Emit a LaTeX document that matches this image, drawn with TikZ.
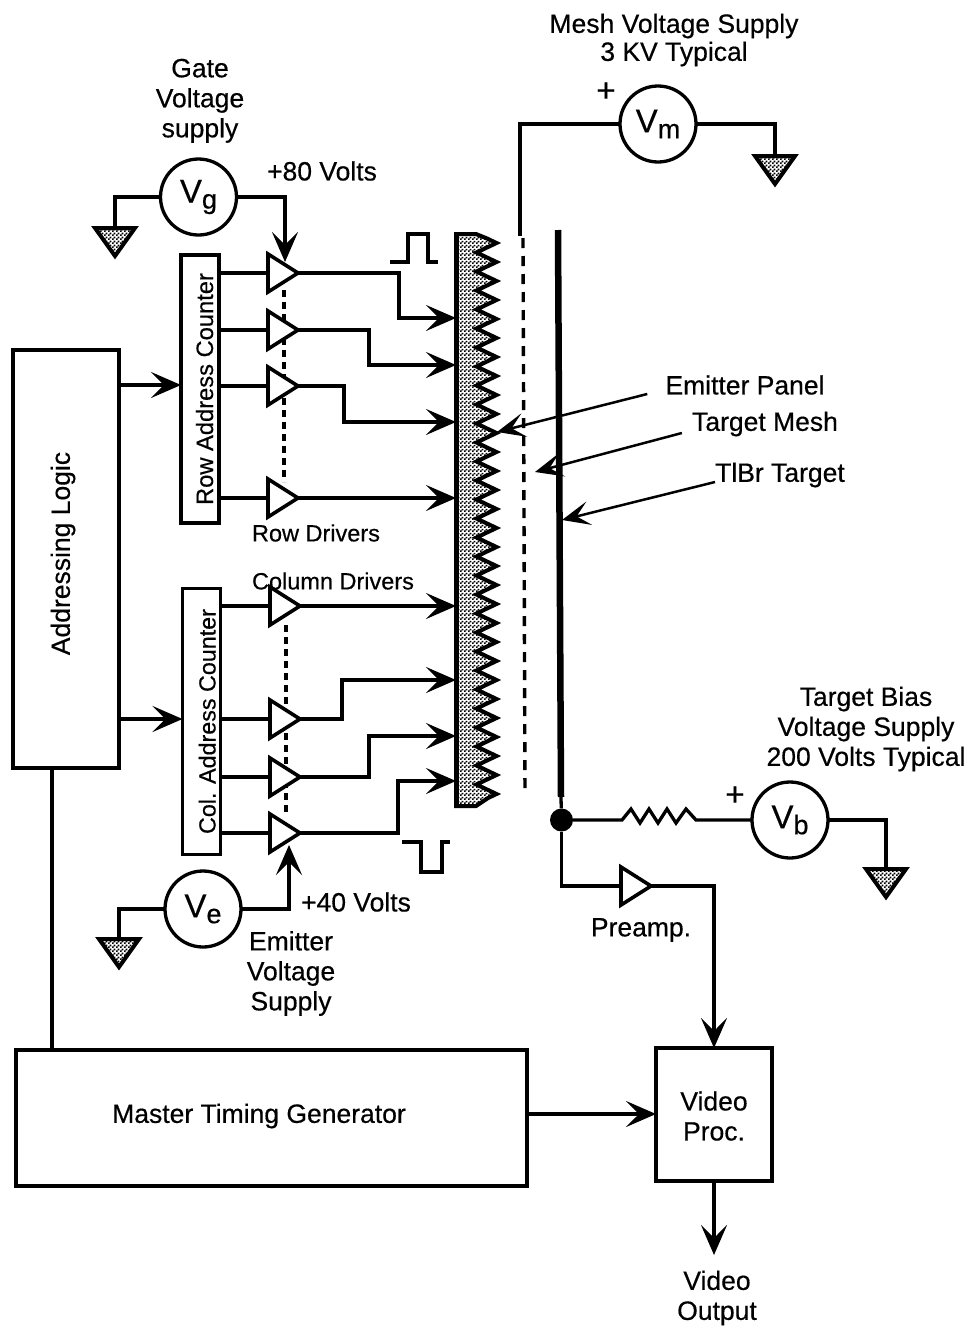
\documentclass[tikz,border=0pt]{standalone}
\usepackage{fontspec}
\setmainfont{Liberation Sans}[FakeBold=0.45]
\usepackage{tikz}
\usetikzlibrary{shapes.geometric, arrows.meta, positioning, patterns, decorations.pathmorphing}

\newcommand{\srclabel}[1]{V\raisebox{-6pt}{\fontsize{27}{27}\selectfont #1}}
\pgfdeclarepatternformonly{stipple}{\pgfqpoint{0pt}{0pt}}{\pgfqpoint{4pt}{4pt}}{\pgfqpoint{4pt}{4pt}}{
    \pgfpathrectangle{\pgfqpoint{0pt}{0pt}}{\pgfqpoint{2pt}{2pt}}
    \pgfpathrectangle{\pgfqpoint{2pt}{2pt}}{\pgfqpoint{2pt}{2pt}}
    \pgfusepath{fill}
}

\begin{document}
\begin{tikzpicture}[
    x=1pt, y=-1pt,
    box/.style={rectangle, draw=black, line width=3.3pt, outer sep=0pt, inner sep=0pt},
    counter/.style={rectangle, draw=black, line width=3.3pt, outer sep=0pt, rotate=90, inner xsep=0pt, inner ysep=0pt, text height=32pt, text depth=6pt, minimum width=268pt, font=\fontsize{23.7}{26}\selectfont},
    driver/.style={isosceles triangle, isosceles triangle stretches, draw=black, fill=white, line width=3.6pt, minimum width=38pt, minimum height=30pt, inner sep=0pt, outer sep=0pt, anchor=lower side},
    source/.style={circle, draw=black, line width=3.3pt, minimum size=76pt, inner sep=0pt, outer sep=0pt, font=\fontsize{33}{33}\selectfont},
    ground/.style={isosceles triangle, isosceles triangle stretches, shape border rotate=270, draw=black, line width=4pt, pattern=stipple, minimum width=40pt, minimum height=28pt, inner sep=0pt, outer sep=0pt, anchor=lower side},
    lbl/.style={inner sep=0pt, align=center, font=\fontsize{26.5}{30}\selectfont},
    smalllbl/.style={inner sep=0pt, align=center, font=\fontsize{23.5}{26}\selectfont},
    wire/.style={draw=black, line width=3.3pt},
    line/.style={draw=black, line width=3.3pt, -{Stealth[length=30pt,width=26pt,inset=13pt]}},
    thinline/.style={draw=black, line width=2.5pt, -{Stealth[length=28pt,width=24pt,inset=13pt]}},
    busdots/.style={draw=black, line width=4.5pt, dash pattern=on 7pt off 5pt}
]
\useasboundingbox (0,0) rectangle (974,1328);

% Logic blocks
\node [box, minimum width=106pt, minimum height=418pt] (addrlogic) at (66,559) {};
\node [lbl, rotate=90] (addrlbl) at (63,553.5) {Addressing Logic};
\node [box, minimum width=511pt, minimum height=136pt] (timing) at (271.5,1118) {};
\node [lbl] (timinglbl) at (259,1116) {Master Timing Generator};
\node [box, minimum width=116pt, minimum height=133pt] (videoproc) at (714,1114.5) {};
\node [lbl] (videolbl) at (714,1116) {Video\\Proc.};
\node [counter] (rowcnt) at (200,389) {Row Address Counter};
\node [counter, minimum width=266pt, text height=33pt, text depth=5pt, font=\fontsize{23.3}{26}\selectfont] (colcnt) at (201.5,721.5) {Col. Address Counter};

% Row and column drivers
\path [busdots] (284,290) -- (284,482);
\path [busdots] (286,625) -- (286,815);
\node [driver] (rowdrv1) at (268,273) {};
\node [driver] (rowdrv2) at (268,330) {};
\node [driver] (rowdrv3) at (268,386) {};
\node [driver] (rowdrv4) at (268,498) {};
\node [driver] (coldrv1) at (270,606) {};
\node [driver] (coldrv2) at (270,719) {};
\node [driver] (coldrv3) at (270,777) {};
\node [driver] (coldrv4) at (270,833) {};
\node [driver] (preamp) at (621,886) {};
\node [smalllbl] (rowlbl) at (316,533) {Row Drivers};
\node [smalllbl] (collbl) at (333,581) {Column Drivers};
\node [lbl] (preamplbl) at (641,930) {Preamp.};

% Emitter panel, mesh, target
\node [minimum width=20pt, minimum height=572pt, inner sep=0pt, outer sep=0pt] (panel) at (466,520) {};
\draw [line width=4pt, pattern=stipple, line join=miter]
    (panel.north west) -- (panel.north east) -- (486.5,238.25)
    decorate [decoration={zigzag, segment length=19pt, amplitude=10pt}] {-- (486.5,799)}
    -- (panel.south east) -- (panel.south west) -- cycle;
\draw [line width=5pt] (panel.north west) -- (panel.south west);
\coordinate (meshtop) at (520,236);
\coordinate (meshdash) at (523,238);
\coordinate (meshbot) at (525,795);
\draw [line width=3.4pt, dash pattern=on 10pt off 8pt] (meshdash) -- (meshbot);
\node [circle, fill=black, minimum size=23pt, inner sep=0pt] (junction) at (561.5,820) {};
\coordinate (targettop) at (558,230);
\coordinate (targetbot) at (561,797);
\draw [line width=6.5pt] (targettop) -- (targetbot);
\draw [wire] (targetbot) -- (junction);

% Voltage sources
\node [source] (vg) at (198.5,197) {\srclabel{g}};
\node [source] (ve) at (203,909) {\srclabel{e}};
\node [source] (vm) at (658,124) {\srclabel{m}};
\node [source] (vb) at (790,820) {\srclabel{b}};
\node [ground] (gndg) at (115,228) {};
\node [ground] (gnde) at (119,939) {};
\node [ground] (gndm) at (775,156) {};
\node [ground] (gndb) at (886,869) {};

% Labels
\node [lbl, above=16pt of vg, xshift=1.5pt] (gatelbl) {Gate\\Voltage\\supply};
\node [lbl] (emitsup) at (291,973.5) {Emitter\\Voltage\\Supply};
\node [lbl, font=\fontsize{26.5}{28}\selectfont] (meshlbl) at (674,40) {Mesh Voltage Supply\\3 KV Typical};
\node [lbl] (biaslbl) at (866,729) {Target Bias\\Voltage Supply\\200 Volts Typical};
\node [lbl] (plus80) at (322,171) {+80 Volts};
\node [lbl] (plus40) at (356,902) {+40 Volts};
\node [lbl, font=\fontsize{33}{33}\selectfont] (plusm) at (606,92) {+};
\node [lbl, font=\fontsize{33}{33}\selectfont] (plusb) at (735,796) {+};
\node [lbl] (emitlbl) at (745,385) {Emitter Panel};
\node [lbl] (meshtgt) at (765,424) {Target Mesh};
\node [lbl] (tlbrlbl) at (780,475) {TlBr Target};
\node [lbl] (videoout) at (717,1298) {Video\\Output};

% Pulses
\coordinate (pulsetop) at (390,262);
\coordinate (pulsebot) at (402,842);
\draw [wire] (pulsetop) -- ++(18,0) -- ++(0,-28) -- ++(20,0) -- ++(0,28) -- ++(10,0);
\draw [wire] (pulsebot) -- ++(19,0) -- ++(0,30) -- ++(21,0) -- ++(0,-30) -- ++(8,0);

% Connections
\path [line] (addrlogic.east |- 0,385) -- (rowcnt.north |- 0,385);
\path [line] (addrlogic.east |- 0,719) -- (colcnt.north |- 0,719);
\path [wire] (52,768) -- (52,1050);
\path [wire] (rowcnt.south |- rowdrv1.lower side) -- (rowdrv1.lower side);
\path [wire] (rowcnt.south |- rowdrv2.lower side) -- (rowdrv2.lower side);
\path [wire] (rowcnt.south |- rowdrv3.lower side) -- (rowdrv3.lower side);
\path [wire] (rowcnt.south |- rowdrv4.lower side) -- (rowdrv4.lower side);
\path [wire] (colcnt.south |- coldrv1.lower side) -- (coldrv1.lower side);
\path [wire] (colcnt.south |- coldrv2.lower side) -- (coldrv2.lower side);
\path [wire] (colcnt.south |- coldrv3.lower side) -- (coldrv3.lower side);
\path [wire] (colcnt.south |- coldrv4.lower side) -- (coldrv4.lower side);
\path [line] (rowdrv1.apex) -- ++(101,0) |- (panel.west |- 0,318);
\path [line] (rowdrv2.apex) -- ++(71,0) |- (panel.west |- 0,365);
\path [line] (rowdrv3.apex) -- ++(46,0) |- (panel.west |- 0,422);
\path [line] (rowdrv4.apex) -- (panel.west |- rowdrv4.apex);
\path [line] (coldrv1.apex) -- (panel.west |- coldrv1.apex);
\path [line] (coldrv2.apex) -- ++(42,0) |- (panel.west |- 0,680);
\path [line] (coldrv3.apex) -- ++(69,0) |- (panel.west |- 0,736);
\path [line] (coldrv4.apex) -- ++(98,0) |- (panel.west |- 0,781);
\path [wire] (vg.west) -| (gndg.lower side);
\path [line] (vg.east) -| (285,262);
\path [wire] (ve.west) -| (gnde.lower side);
\path [line] (ve.east) -| (289,845);
\path [wire] (vm.west) -| (meshtop);
\path [wire] (vm.east) -| (gndm.lower side);
\path [wire] (vb.east) -| (gndb.lower side);
\path [wire] (junction) -- (622,820) -- ++(9,-11) -- ++(9,14) -- ++(9,-14) -- ++(9,14) -- ++(9,-14) -- ++(9,14) -- ++(10,-14) -- ++(10,11) -- (vb.west);
\path [wire] (junction) |- (preamp.lower side);
\path [line] (preamp.apex) -| (videoproc.north);
\path [line] (timing.east |- 0,1114) -- (videoproc.west |- 0,1114);
\path [line] (videoproc.south) -- (714,1255);
\path [thinline] ([shift={(-18,9)}]emitlbl.west) -- (497,432);
\path [thinline] ([shift={(-10,9)}]meshtgt.west) -- (535,472);
\path [thinline] ([shift={(0,7)}]tlbrlbl.west) -- (562,520);

\end{tikzpicture}
\end{document}
